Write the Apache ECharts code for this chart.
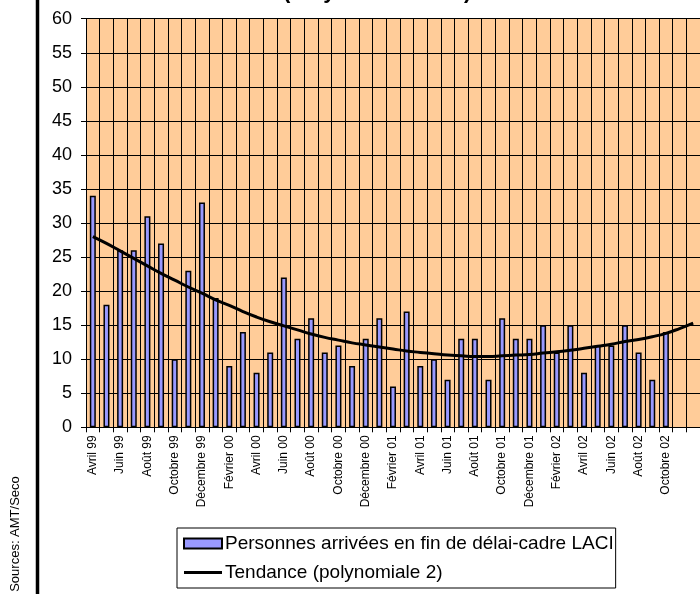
<!DOCTYPE html>
<html lang="fr">
<head>
    <meta charset="UTF-8">
    <title>LACI</title>
    <script src="https://cdn.jsdelivr.net/npm/echarts@6/dist/echarts.min.js"></script>
    <style>
        html, body { margin: 0; padding: 0; background: #fff; }
        #main { width: 700px; height: 594px; }
    </style>
</head>
<body>
    <div id="main"></div>
    <script>
        // mois, avril 99 -> décembre 02 (les deux derniers sans étiquette)
        var mois = [
            'Avril 99', 'Mai 99', 'Juin 99', 'Juillet 99', 'Août 99', 'Septembre 99', 'Octobre 99', 'Novembre 99', 'Décembre 99',
            'Janvier 00', 'Février 00', 'Mars 00', 'Avril 00', 'Mai 00', 'Juin 00', 'Juillet 00', 'Août 00', 'Septembre 00', 'Octobre 00', 'Novembre 00', 'Décembre 00',
            'Janvier 01', 'Février 01', 'Mars 01', 'Avril 01', 'Mai 01', 'Juin 01', 'Juillet 01', 'Août 01', 'Septembre 01', 'Octobre 01', 'Novembre 01', 'Décembre 01',
            'Janvier 02', 'Février 02', 'Mars 02', 'Avril 02', 'Mai 02', 'Juin 02', 'Juillet 02', 'Août 02', 'Septembre 02', 'Octobre 02', '', ' '
        ];
        // personnes arrivées en fin de délai-cadre
        var personnes = [
            34, 18, 26, 26, 31, 27, 10, 23, 33,
            19, 9, 14, 8, 11, 22, 13, 16, 11, 12, 9, 13,
            16, 6, 17, 9, 10, 7, 13, 13, 7, 16, 13, 13,
            15, 11, 15, 8, 12, 12, 15, 11, 7, 14, null, null
        ];
        // tendance
        var tendance = [
            28.0, 27.0, 25.9, 24.8, 23.7, 22.6, 21.6, 20.6, 19.7,
            18.7, 17.9, 17.0, 16.2, 15.5, 14.9, 14.3, 13.7, 13.2, 12.8, 12.4, 12.1,
            11.8, 11.5, 11.2, 11.0, 10.8, 10.6, 10.5, 10.4, 10.4, 10.5, 10.6, 10.7,
            10.9, 11.1, 11.3, 11.6, 11.9, 12.2, 12.6, 12.9, 13.3, 13.8, 14.5, 15.3
        ];
        var yTicks = [0, 60, 5];

        var police = '"Liberation Sans", Arial, sans-serif';
        var myChart = echarts.init(document.getElementById('main'));

        var option = {
            backgroundColor: '#fff',
            animation: false,
            title: {
                text: '(moyenne mobile)',
                left: 283,
                top: -19,
                padding: 0,
                textStyle: { fontFamily: police, fontSize: 22, fontWeight: 'bold', color: '#000' }
            },
            grid: {
                left: 86,
                right: -3,
                top: 18.7,
                bottom: 166.7,
                show: true,
                backgroundColor: '#FFCC99',
                borderWidth: 0
            },
            legend: {
                orient: 'vertical',
                left: 177,
                top: 528,
                padding: [6, 2, 6, 6],
                itemGap: 10,
                itemWidth: 38,
                itemHeight: 10,
                symbolKeepAspect: true,
                borderColor: '#000',
                borderWidth: 1,
                backgroundColor: '#fff',
                textStyle: { fontFamily: police, fontSize: 19, color: '#000', padding: [0, 0, 0, -2] },
                data: [
                    { name: 'Personnes arrivées en fin de délai-cadre LACI', icon: 'rect' },
                    { name: 'Tendance (polynomiale 2)', icon: 'path://M0,0 L38,0 L38,3 L0,3 Z' }
                ]
            },
            xAxis: {
                type: 'category',
                data: mois,
                boundaryGap: true,
                axisLine: { lineStyle: { color: '#000', width: 1 } },
                axisTick: { show: true, interval: 0, length: 5, lineStyle: { color: '#000' } },
                axisLabel: {
                    interval: 1,
                    rotate: 90,
                    margin: 8,
                    fontFamily: police,
                    fontSize: 12,
                    color: '#000'
                },
                splitLine: { show: true, interval: 0, lineStyle: { color: '#000', width: 1 } }
            },
            yAxis: {
                type: 'value',
                min: yTicks[0],
                max: yTicks[1],
                interval: yTicks[2],
                axisLine: { show: true, lineStyle: { color: '#000', width: 1 } },
                axisTick: { show: true, length: 5, lineStyle: { color: '#000' } },
                axisLabel: { margin: 14, fontFamily: police, fontSize: 18, color: '#000' },
                splitLine: { show: true, lineStyle: { color: '#000', width: 1 } }
            },
            series: [
                {
                    name: 'Personnes arrivées en fin de délai-cadre LACI',
                    type: 'bar',
                    barWidth: 6,
                    itemStyle: { color: '#9999FF', borderColor: '#000', borderWidth: 1.5 },
                    data: personnes
                },
                {
                    name: 'Tendance (polynomiale 2)',
                    type: 'line',
                    smooth: true,
                    symbol: 'none',
                    lineStyle: { color: '#000', width: 3 },
                    itemStyle: { color: '#000' },
                    data: tendance
                }
            ],
            graphic: [
                {
                    type: 'line',
                    shape: { x1: 37.5, y1: 0, x2: 37.5, y2: 594 },
                    style: { stroke: '#000', lineWidth: 3.5 }
                },
                {
                    type: 'text',
                    x: 15,
                    y: 534,
                    rotation: Math.PI / 2,
                    style: {
                        text: 'Sources: AMT/Seco',
                        fontFamily: police,
                        fontSize: 13,
                        fill: '#000',
                        align: 'center',
                        verticalAlign: 'middle'
                    }
                }
            ]
        };

        myChart.setOption(option);
    </script>
</body>
</html>
